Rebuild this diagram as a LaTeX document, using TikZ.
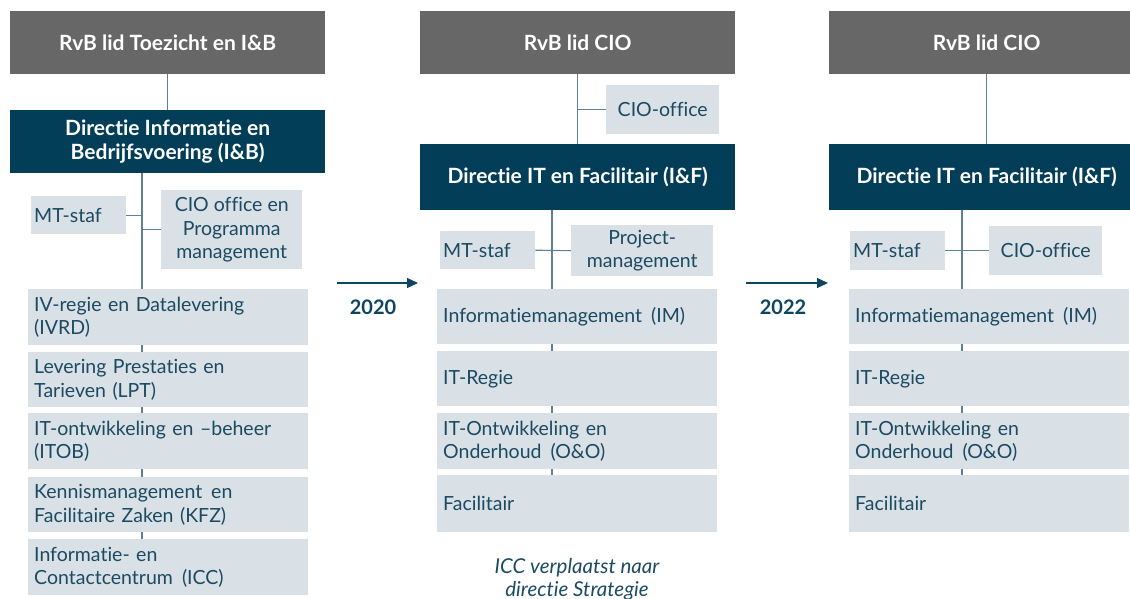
\documentclass[tikz,border=0pt]{standalone}
\usepackage{fontspec}
\setmainfont{Lato}[Ligatures={TeX,NoCommon}]
\usetikzlibrary{arrows.meta,backgrounds,calc}
\definecolor{hdgray}{HTML}{676767}
\definecolor{dirblue}{HTML}{033E59}
\definecolor{boxlight}{HTML}{D9E1E6}
\definecolor{boxtext}{HTML}{1B4A62}
\definecolor{linecol}{HTML}{5F8194}
\definecolor{arrowcol}{HTML}{0D4461}
\newcommand{\wsp}{\hspace{2.5pt} }
\tikzset{
  basefont/.style={font=\fontsize{19.5}{23.5}\selectfont},
  headfont/.style={font=\fontsize{21}{23.5}\selectfont\bfseries},
  rvbbox/.style={headfont, fill=hdgray, text=white,
     anchor=north west, minimum width=315, minimum height=63, inner sep=0, align=center},
  dirbox/.style={headfont, fill=dirblue, text=white,
     anchor=north west, minimum width=315, minimum height=65, inner sep=0, align=center},
  unitbox/.style={basefont, fill=boxlight, text=boxtext, anchor=north west,
     minimum width=280, minimum height=56, inner xsep=6, inner ysep=0,
     text width=268, align=left},
  staffbox/.style={basefont, fill=boxlight, text=boxtext, anchor=north west,
     inner sep=0, align=center},
  conn/.style={draw=linecol, line width=1.1pt},
  yeararrow/.style={draw=arrowcol, line width=1.2pt, -{Triangle[length=11pt,width=10pt]}},
  yearlabel/.style={text=arrowcol, font=\fontsize{20}{23}\selectfont\bfseries},
  notelabel/.style={text=boxtext, font=\fontsize{20.5}{23}\selectfont\itshape, align=center},
}
\begin{document}
\begin{tikzpicture}[x=1pt,y=-1pt]
\useasboundingbox (0,0) rectangle (1130,598);
\clip (0,0) rectangle (1130,598);

% ---------- column 1 ----------
\node[rvbbox] (rvb1) at (10,11) {RvB lid Toezicht en I\&B};
\node[dirbox, minimum height=63] (dir1) at (10,110) {Directie Informatie en\\Bedrijfsvoering (I\&B)};
\node[staffbox, minimum width=95, minimum height=38, text width=89, align=left] (mt1) at (31,196) {MT-staf};
\node[staffbox, minimum width=141, minimum height=79] (cio1) at (161,190) {CIO office en\\Programma\\management};
\node[unitbox] (ib1) at (28,289) {IV-regie en Datalevering\\(IVRD)};
\node[unitbox, minimum height=55] (ib2) at (28,352) {Levering Prestaties en\\Tarieven (LPT)};
\node[unitbox] (ib3) at (28,413) {IT-ontwikkeling en –beheer\\(ITOB)};
\node[unitbox, minimum height=55] (ib4) at (28,477) {Kennismanagement\wsp en\\Facilitaire Zaken (KFZ)};
\node[unitbox] (ib5) at (28,539) {Informatie- en\\Contactcentrum\wsp (ICC)};
\coordinate (s1) at (142,0);

% ---------- column 2 ----------
\node[rvbbox] (rvb2) at (420,11) {RvB lid CIO};
\node[staffbox, minimum width=113, minimum height=49] (cio2) at (606,85) {CIO-office};
\node[dirbox, minimum height=66] (dir2) at (420,144) {Directie IT en Facilitair (I\&F)};
\node[staffbox, minimum width=95, minimum height=38, text width=89, align=left] (mt2) at (440,231) {MT-staf};
\node[staffbox, minimum width=142, minimum height=51] (pm2) at (571,225) {Project-\\management};
\node[unitbox, minimum height=55] (u21) at (437,289) {Informatiemanagement\wsp (IM)};
\node[unitbox, minimum height=55] (u22) at (437,351) {IT-Regie};
\node[unitbox] (u23) at (437,413) {IT-Ontwikkeling en\\Onderhoud\wsp (O\&O)};
\node[unitbox, minimum height=57] (u24) at (437,475) {Facilitair};
\coordinate (s2) at (552,0);
\node[notelabel, anchor=base] (note) at (577,596) {ICC verplaatst naar\\directie Strategie};

% ---------- column 3 ----------
\node[rvbbox] (rvb3) at (829,11) {RvB lid CIO};
\node[dirbox, minimum height=66] (dir3) at (829,144) {Directie IT en Facilitair (I\&F)};
\node[staffbox, minimum width=95, minimum height=39, text width=89, align=left] (mt3) at (850,231) {MT-staf};
\node[staffbox, minimum width=113, minimum height=49] (cio3) at (989,226) {CIO-office};
\node[unitbox, minimum height=55] (u31) at (849,289) {Informatiemanagement\wsp (IM)};
\node[unitbox, minimum height=55] (u32) at (849,351) {IT-Regie};
\node[unitbox] (u33) at (849,413) {IT-Ontwikkeling en\\Onderhoud\wsp (O\&O)};
\node[unitbox, minimum height=57] (u34) at (849,475) {Facilitair};
\coordinate (s3) at (962,0);

% ---------- arrows between years ----------
\coordinate (a1s) at (337,283);
\coordinate (a1e) at (418,283);
\coordinate (a2s) at (746,283);
\coordinate (a2e) at (828,283);
\draw[yeararrow] (a1s) -- (a1e);
\draw[yeararrow] (a2s) -- (a2e);
\node[yearlabel] (y1) at (373,307) {2020};
\node[yearlabel] (y2) at (783,307) {2022};

% ---------- connectors ----------
\begin{scope}[on background layer]
\draw[conn] (rvb1.south) -- (dir1.north);
\draw[conn] (dir1.south -| s1) -- (ib5.north -| s1);
\draw[conn] (mt1.east) -- (mt1.east -| s1);
\draw[conn] (cio1.west) -- (cio1.west -| s1);

\draw[conn] (rvb2.south) -- (dir2.north);
\draw[conn] (cio2.west) -- (cio2.west -| rvb2.south);
\draw[conn] (dir2.south -| s2) -- (u24.north -| s2);
\draw[conn] (mt2.east) -- (pm2.west);

\draw[conn] (rvb3.south) -- (dir3.north);
\draw[conn] (dir3.south -| s3) -- (u34.north -| s3);
\draw[conn] (mt3.east) -- (cio3.west);
\end{scope}
\end{tikzpicture}
\end{document}
